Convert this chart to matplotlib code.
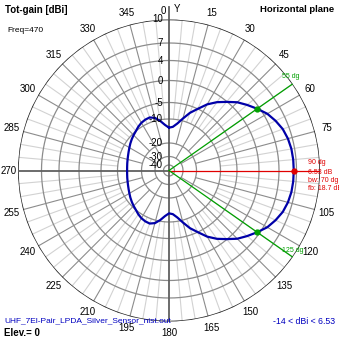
import numpy as np
import matplotlib
matplotlib.use('Agg')
import matplotlib.pyplot as plt
from matplotlib.lines import Line2D

# horizontal-plane pattern, total gain in dBi, angle clockwise from Y axis
angles = list(range(0, 360, 5))
gain = [-13.6, -13.2, -11.6, -9.3, -7.0, -5.0, -3.1, -1.5, -0.1, 1.3, 2.4, 3.53,
        4.6, 5.3, 5.9, 6.25, 6.45, 6.52, 6.53, 6.52, 6.45, 6.25, 5.9, 5.3,
        4.6, 3.53, 2.4, 1.3, -0.1, -1.5, -3.1, -5.0, -7.0, -9.3, -11.6, -13.2,
        -13.6, -12.4, -10.5, -9.1, -8.5, -8.6, -8.9, -9.4, -10.0, -10.6, -11.2, -11.8,
        -12.4, -12.9, -13.3, -13.6, -13.8, -13.95, -14.0, -13.95, -13.8, -13.6, -13.3, -12.9,
        -12.4, -11.8, -11.2, -10.6, -10.0, -9.4, -8.9, -8.6, -8.5, -9.1, -10.5, -12.4]

max_angle = 90
max_gain = 6.53
bw_angles = [55, 125]
bw_gain = [3.53, 3.53]
ring_levels = [10, 7, 4, 0, -5, -10, -20, -30, -40]
angle_labels = list(range(0, 360, 15))

# radial scale of the plot (ring radius in pixels)
scale_db = [-50, -40, -30, -20, -10, -5, 0, 4, 7, 10]
scale_px = [0, 5.5, 14, 27.5, 51.5, 68, 90, 110, 127.5, 151]


def fwd(v):
    return np.interp(v, scale_db, scale_px)


def inv(v):
    return np.interp(v, scale_px, scale_db)


W = 339
cx, cy, R = 169, 170.5, 151

fig = plt.figure(figsize=(3.39, 3.39), dpi=100)
ax = fig.add_axes([(cx - R) / W, (W - cy - R) / W, 2 * R / W, 2 * R / W], projection='polar')
ax.set_theta_zero_location('N')
ax.set_theta_direction(-1)
ax.set_rscale('function', functions=(fwd, inv))
ax.grid(False)
ax.spines['polar'].set_visible(False)
ax.patch.set_alpha(0)

th = np.linspace(0, 2 * np.pi, 721)
# spokes
for a in range(0, 360, 5):
    if a % 90 == 0:
        continue
    t = np.deg2rad(a)
    if a % 15 == 0:
        r0 = -30 if a % 30 == 0 else -20
        ax.plot([t, t], [r0, 10], color='#8c8c8c', lw=0.8, zorder=1)
    else:
        ax.plot([t, t], [-10, 10], color='#d2d2d2', lw=0.8, zorder=1)
# rings
for lv in ring_levels:
    if lv == 10:
        ax.plot(th, np.full_like(th, lv), color='#202020', lw=1.1, zorder=2)
    else:
        ax.plot(th, np.full_like(th, lv), color='#8c8c8c', lw=0.9, zorder=2)

# main axes
ax.plot([0, 0], [-50, 10], color='#606060', lw=1.3, zorder=3)
ax.plot([np.pi, np.pi], [-50, 10], color='#606060', lw=1.3, zorder=3)
ax.plot([1.5 * np.pi] * 2, [-50, 10], color='#606060', lw=1.3, zorder=3)
fig.add_artist(Line2D([cx / W, cx / W], [1 - (cy - R) / W, 1 - 7 / W], color='#606060', lw=1.3))

# max direction and beamwidth lines
ax.plot([np.deg2rad(max_angle)] * 2, [-50, 10], color='#e00000', lw=0.9, zorder=3)
for a in bw_angles:
    ax.plot([np.deg2rad(a)] * 2, [-50, 10], color='#00a000', lw=0.9, zorder=3)

# pattern
tt = np.deg2rad(angles + [angles[0]])
gg = gain + [gain[0]]
ax.plot(tt, gg, color='#0000a8', lw=1.6, zorder=5)
ax.plot(np.deg2rad(bw_angles), bw_gain, 'o', color='#00a000', ms=3.5, zorder=6)
ax.plot([np.deg2rad(max_angle)], [max_gain], 'o', color='#e00000', ms=3.5, zorder=6)

ax.set_rlim(-50, 10)
ax.set_xticks([])
ax.set_yticks([])

lf = dict(fontsize=7, family='Liberation Sans', color='black')
# angle labels
for a in angle_labels:
    if a == 90:
        continue
    t = np.deg2rad(a)
    if a == 0:
        off = (-6, 9)
    elif a == 270:
        off = (-9.5, 0)
    else:
        off = (12 * np.sin(t), 12 * np.cos(t))
    ax.annotate(str(a), xy=(t, 10), xytext=off, textcoords='offset pixels',
                ha='center', va='center', annotation_clip=False, **lf)
ax.annotate('Y', xy=(0, 10), xytext=(8, 10), textcoords='offset pixels',
            ha='center', va='center', annotation_clip=False, **lf)

# ring labels
for lv in ring_levels:
    ax.annotate(str(lv), xy=(0, lv), xytext=(-6, 0), textcoords='offset pixels',
                ha='right', va='center', zorder=7, **lf)

# titles and notes
fig.text(5 / W, 1 - 10 / W, 'Tot-gain [dBi]', fontsize=7, weight='bold',
         family='Liberation Sans', va='center')
fig.text(7 / W, 1 - 30 / W, 'Freq=470', fontsize=6, family='Liberation Sans', va='center')
fig.text(334 / W, 1 - 10 / W, 'Horizontal plane', fontsize=6.8, weight='bold',
         family='Liberation Sans', va='center', ha='right')
fig.text(4 / W, 1 - 321 / W, 'UHF_7El-Pair_LPDA_Silver_Sensor_nist.out', fontsize=6,
         family='Liberation Sans', color='#0000c0', va='center')
fig.text(4 / W, 1 - 333 / W, 'Elev.= 0', fontsize=7, weight='bold',
         family='Liberation Sans', va='center')
fig.text(335 / W, 1 - 321 / W, '-14 < dBi < 6.53', fontsize=6.3,
         family='Liberation Sans', color='#0000c0', va='center', ha='right')

red = dict(fontsize=5, family='Liberation Sans', color='#e00000', va='center')
fig.text(308 / W, 1 - 163 / W, '90 dg', **red)
fig.text(308 / W, 1 - 172 / W, '6.53 dB', **red)
fig.text(308 / W, 1 - 181 / W, 'bw: 70 dg', **red)
fig.text(308 / W, 1 - 189 / W, 'fb: 18.7 dB', **red)
grn = dict(fontsize=5, family='Liberation Sans', color='#00a000', va='center')
fig.text(282 / W, 1 - 76 / W, '55 dg', **grn)
fig.text(282 / W, 1 - 250 / W, '125 dg', **grn)

fig.savefig('out.png', dpi=100)
